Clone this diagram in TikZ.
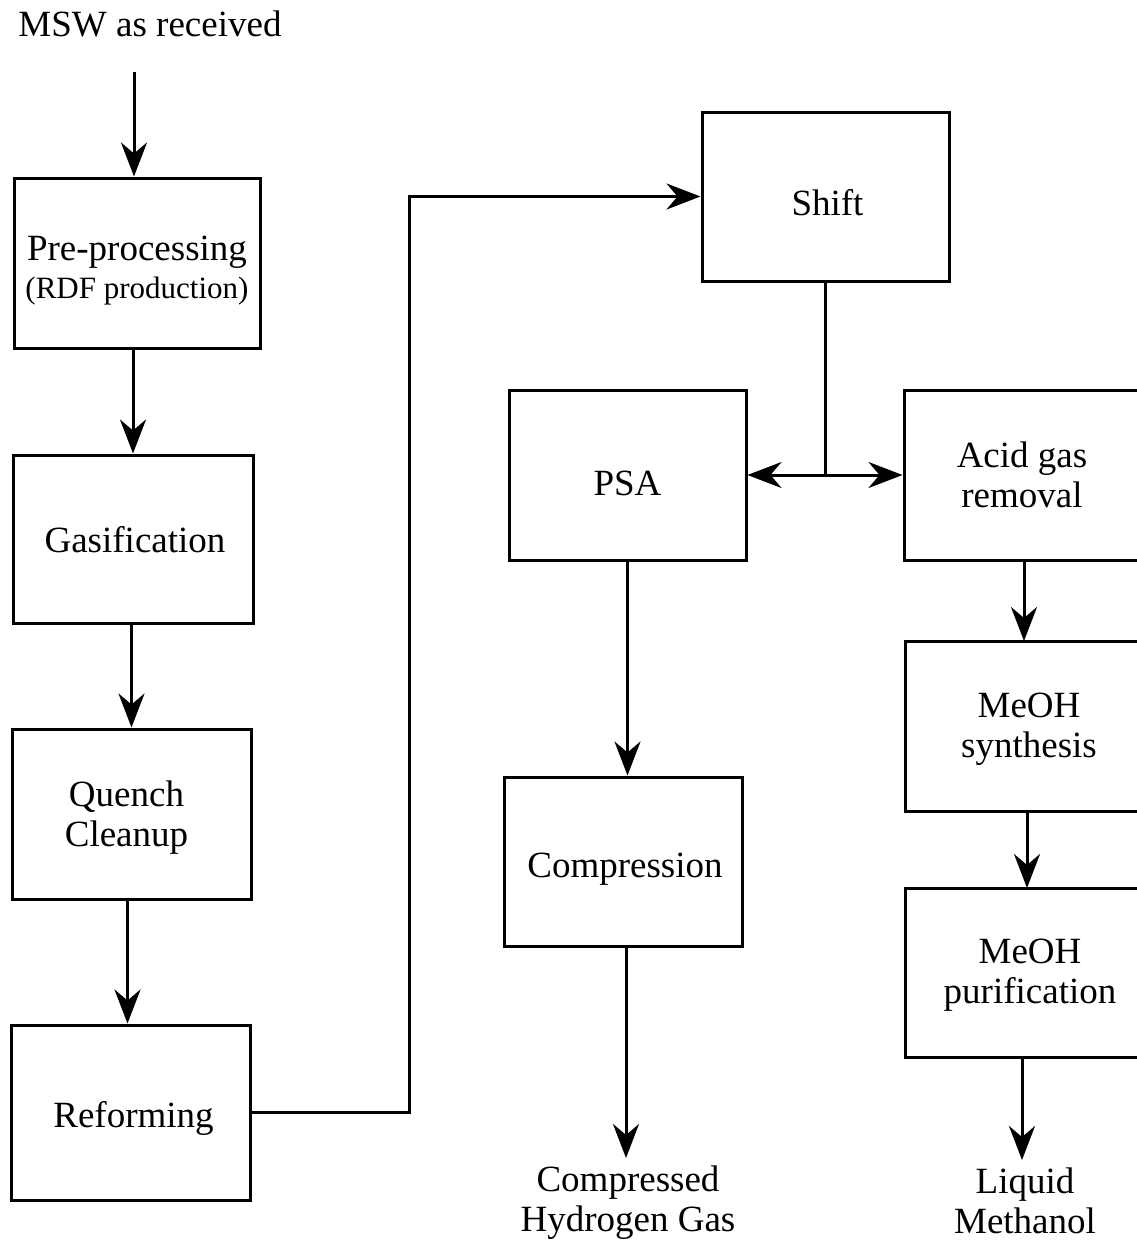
\documentclass[tikz,border=0pt]{standalone}
\usepackage{fontspec}
\setmainfont{Liberation Serif}
\usetikzlibrary{arrows.meta}
\begin{document}
\begin{tikzpicture}[x=1pt,y=-1pt,
  box/.style={draw, line width=3pt, inner sep=0pt},
  lbl/.style={inner sep=0pt, align=center, font=\fontsize{37}{40}\selectfont},
  arr/.style={line width=3pt, -{Stealth[length=34pt, width=26pt, inset=11pt]}},
  conn/.style={line width=3pt}]
\useasboundingbox (0,0) rectangle (1137,1240);
\clip (0,0) rectangle (1137,1240);
% left column
\node[lbl, anchor=base] (msw) at (150,36) {MSW as received};
\coordinate (in0) at (134,72);
\node[box, minimum width=246pt, minimum height=170pt,
  label={[lbl, yshift=-8pt]center:{Pre-processing\\[-2pt]{\fontsize{31}{34}\selectfont (RDF production)}}}] (pre) at (137,263) {};
\node[box, minimum width=240pt, minimum height=168pt,
  label={[lbl, yshift=-1pt, xshift=2pt]center:Gasification}] (gas) at (133,539) {};
\node[box, minimum width=239pt, minimum height=170pt,
  label={[lbl, yshift=-4pt, xshift=-5pt]center:{Quench\\Cleanup}}] (quench) at (131.5,814) {};
\node[box, minimum width=239pt, minimum height=175pt,
  label={[lbl, yshift=-6pt, xshift=3pt]center:Reforming}] (reform) at (130.5,1112.5) {};
% middle
\node[box, minimum width=247pt, minimum height=169pt,
  label={[lbl, yshift=-6pt, xshift=2pt]center:Shift}] (shift) at (825.5,196.5) {};
\node[box, minimum width=237pt, minimum height=170pt,
  label={[lbl, yshift=-8pt]center:PSA}] (psa) at (627.5,475) {};
\node[box, minimum width=238pt, minimum height=169pt,
  label={[lbl, yshift=-8pt, xshift=2pt]center:Compression}] (comp) at (623,861.5) {};
\node[lbl, anchor=north] (h2) at (628,1166) {Compressed\\Hydrogen Gas};
% right
\node[box, minimum width=236pt, minimum height=170pt,
  label={[lbl, yshift=0pt]center:{Acid gas\\removal}}] (acid) at (1022,475) {};
\node[box, minimum width=248pt, minimum height=170pt,
  label={[lbl, yshift=-3pt]center:{MeOH\\synthesis}}] (synth) at (1029,726) {};
\node[box, minimum width=250pt, minimum height=169pt,
  label={[lbl, yshift=-3pt]center:{MeOH\\purification}}] (purif) at (1030,972.5) {};
\node[lbl, anchor=north] (meoh) at (1025,1168) {Liquid\\Methanol};
% connectors
\draw[arr] (in0) -- (in0 |- pre.north);
\draw[arr] (gas.north |- pre.south) -- (gas.north);
\draw[arr] (quench.north |- gas.south) -- (quench.north);
\draw[arr] ([xshift=-4pt]quench.south) -- ([xshift=-4pt]quench.south |- reform.north);
\draw[arr] (reform.east) -- ++(158,0) |- (shift.west);
\coordinate (j) at (shift.south |- psa.east);
\draw[conn] (shift.south) -- (j);
\draw[arr] (j) -- (psa.east);
\draw[arr] (j) -- (j -| acid.west);
\draw[arr] (psa.south) -- (psa.south |- comp.north);
\draw[arr] ([xshift=3pt]comp.south) -- ([xshift=3pt]comp.south |- 0,1158);
\draw[arr] (1024,560) -- (1024,641);
\draw[arr] (1027,811) -- (1027,888);
\draw[arr] (purif.south -| 1022,0) -- (1022,1160);
\end{tikzpicture}
\end{document}
